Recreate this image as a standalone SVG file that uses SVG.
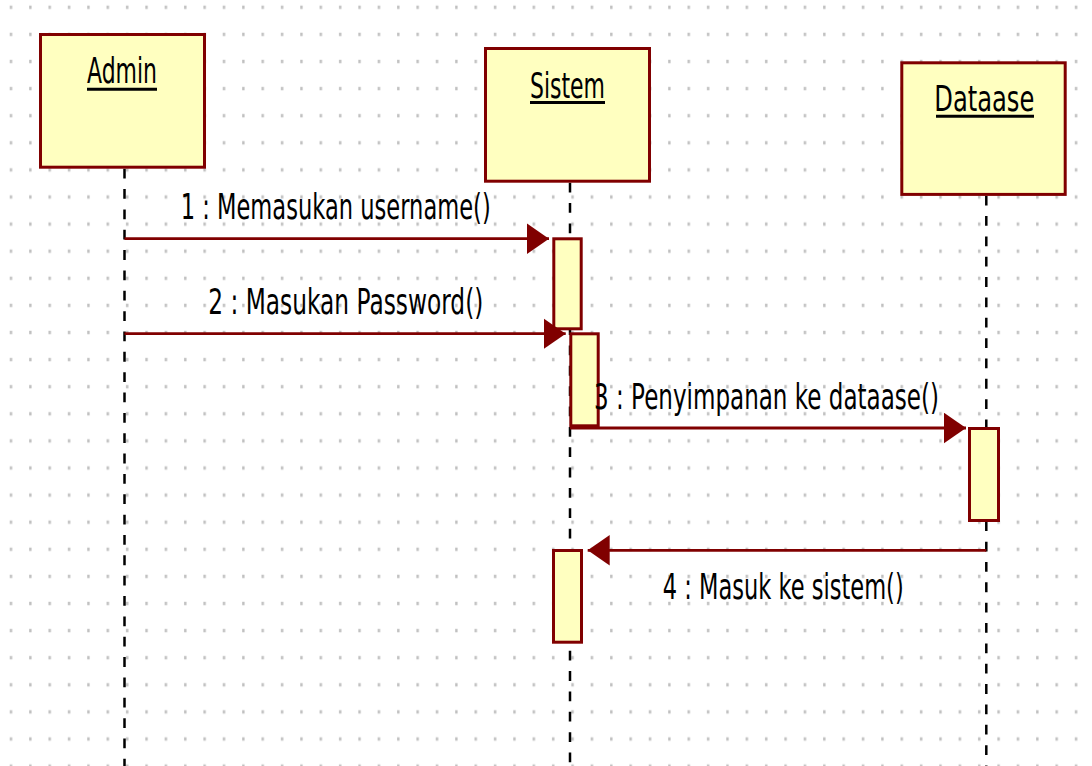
<svg xmlns="http://www.w3.org/2000/svg" width="1092" height="766" viewBox="0 0 1092 766">
  <style>
    .obj { fill: #ffffc0; stroke: #800000; stroke-width: 3; }
    .act { fill: #ffffc0; stroke: #800000; stroke-width: 3; }
    .life { stroke: #000; stroke-width: 2.5; stroke-dasharray: 9.8 10.55; fill: none; }
    .msg { stroke: #800000; stroke-width: 2.8; fill: none; }
    .name { font-family: "DejaVu Sans", "Liberation Sans", sans-serif; font-size: 36px; fill: #000; }
    .lbl { font-family: "DejaVu Sans", "Liberation Sans", sans-serif; font-size: 35px; fill: #000; }
    .ul { stroke: #000; stroke-width: 3; }
  </style>
  <defs>
    <pattern id="grid" patternUnits="userSpaceOnUse" x="0" y="0" width="19.365" height="27.1">
      <rect x="9.8" y="5.6" width="2.4" height="3.4" fill="#c0c0c0"/>
    </pattern>
    <marker id="head" markerUnits="userSpaceOnUse" markerWidth="24" markerHeight="32" refX="22" refY="15.25" orient="auto">
      <path d="M0,0 L22,15.25 L0,30.5 Z" fill="#800000"/>
    </marker>
  </defs>

  <!-- canvas with dotted grid -->
  <rect x="0" y="0" width="1092" height="766" fill="#fff"/>
  <rect x="0" y="0" width="1092" height="766" fill="url(#grid)"/>

  <!-- lifelines -->
  <g id="lifelines">
    <line class="life" x1="124.5" y1="168.7" x2="124.5" y2="766"/>
    <line class="life" x1="570" y1="182.7" x2="570" y2="766"/>
    <line class="life" x1="986.3" y1="195.7" x2="986.3" y2="766"/>
  </g>

  <!-- objects -->
  <g id="admin">
    <rect class="obj" x="40.5" y="34.5" width="164" height="132.7"/>
    <text class="name" x="87" y="83.3" textLength="70" lengthAdjust="spacingAndGlyphs">Admin</text>
    <line class="ul" x1="87" y1="89.3" x2="157" y2="89.3"/>
  </g>
  <g id="sistem">
    <rect class="obj" x="485.5" y="48.5" width="164" height="132.7"/>
    <text class="name" x="530" y="97.7" textLength="75" lengthAdjust="spacingAndGlyphs">Sistem</text>
    <line class="ul" x1="530" y1="102.5" x2="605" y2="102.5"/>
  </g>
  <g id="dataase">
    <rect class="obj" x="901.8" y="62.8" width="163.4" height="131.6"/>
    <text class="name" x="934.3" y="111" textLength="100" lengthAdjust="spacingAndGlyphs">Dataase</text>
    <line class="ul" x1="936" y1="116.2" x2="1034" y2="116.2"/>
  </g>

  <!-- activation bars -->
  <g id="activations">
    <rect class="act" x="553.8" y="238.8" width="27.4" height="90"/>
    <rect class="act" x="570.8" y="333.8" width="27.4" height="92"/>
    <rect class="act" x="969.5" y="428.5" width="29" height="92"/>
    <rect class="act" x="553.5" y="550.5" width="28" height="91.7"/>
  </g>

  <!-- messages -->
  <g id="connectors">
    <line class="msg" x1="124.5" y1="238.7" x2="549" y2="238.7" marker-end="url(#head)"/>
    <line class="msg" x1="124.5" y1="333.7" x2="565.7" y2="333.7" marker-end="url(#head)"/>
    <line class="msg" x1="570" y1="428" x2="966" y2="428" marker-end="url(#head)"/>
    <line class="msg" x1="986.3" y1="550.3" x2="587.7" y2="550.3" marker-end="url(#head)"/>
  </g>

  <!-- message labels -->
  <g id="labels">
    <text class="lbl" x="180.7" y="219.3" textLength="310" lengthAdjust="spacingAndGlyphs">1 : Memasukan username()</text>
    <text class="lbl" x="208.3" y="314.3" textLength="275" lengthAdjust="spacingAndGlyphs">2 : Masukan Password()</text>
    <text class="lbl" x="594" y="409.3" textLength="345" lengthAdjust="spacingAndGlyphs">3 : Penyimpanan ke dataase()</text>
    <text class="lbl" x="662.7" y="599.3" textLength="241" lengthAdjust="spacingAndGlyphs">4 : Masuk ke sistem()</text>
  </g>
</svg>
